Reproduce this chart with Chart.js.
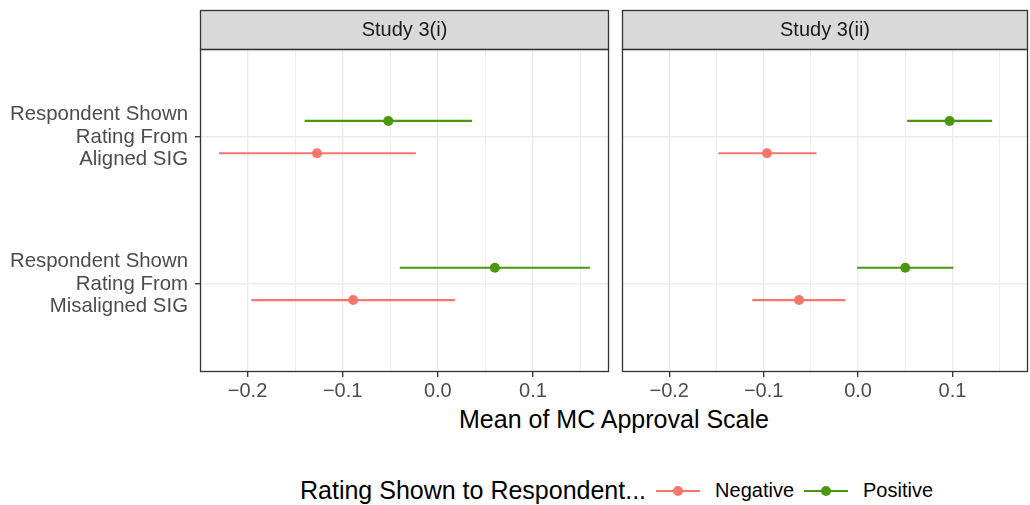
<!DOCTYPE html>
<html>
<head>
<meta charset="utf-8">
<script src="https://cdn.jsdelivr.net/npm/chart.js@4/dist/chart.umd.min.js"></script>
<style>
  body { margin: 0; width: 1030px; height: 505px; background: #fff; overflow: hidden; font-family: "Liberation Sans", Arial, sans-serif; }
  canvas { position: absolute; top: 0; }
  #c1 { left: 0; }
  #c2 { left: 612px; }
  #xtitle { position: absolute; left: 414px; width: 400px; top: 405px; text-align: center; font-size: 25px; color: #000; }
  #legend { position: absolute; left: 300px; top: 476px; display: flex; align-items: center; font-size: 20px; color: #000; white-space: nowrap; }
  #legend .title { font-size: 25px; margin-right: 6px; }
  #legend .key { position: relative; width: 52px; height: 20px; margin-right: 11px; }
  #legend .key .ln { position: absolute; left: 4px; right: 4px; top: 9px; height: 2px; }
  #legend .key .dt { position: absolute; left: 21px; top: 5px; width: 10px; height: 10px; border-radius: 50%; }
  #legend .lab { margin-right: 6px; }
</style>
</head>
<body>
<canvas id="c1" width="612" height="400"></canvas>
<canvas id="c2" width="418" height="400"></canvas>
<div id="xtitle">Mean of MC Approval Scale</div>
<div id="legend"></div>
<script>
// data
const studies = ['Study 3(i)', 'Study 3(ii)'];
const rowLabels = [
  ['Respondent Shown', 'Rating From', 'Aligned SIG'],
  ['Respondent Shown', 'Rating From', 'Misaligned SIG']
];
const rowPos = [2, 1];
const groups = ['Negative', 'Positive'];
const groupColors = ['#F8766D', '#4C960E'];

// Study 3(i)
const s1NegMean = [-0.127, -0.089];
const s1NegLow  = [-0.230, -0.196];
const s1NegHigh = [-0.023,  0.018];
const s1PosMean = [-0.052,  0.060];
const s1PosLow  = [-0.140, -0.040];
const s1PosHigh = [ 0.036,  0.160];

// Study 3(ii)
const s2NegMean = [-0.0965, -0.0625];
const s2NegLow  = [-0.148,  -0.112];
const s2NegHigh = [-0.044,  -0.0134];
const s2PosMean = [ 0.097,   0.050];
const s2PosLow  = [ 0.052,  -0.001];
const s2PosHigh = [ 0.142,   0.101];

const xMajor = [-0.2, -0.1, 0, 0.1];
const xMinor = [-0.25, -0.15, -0.05, 0.05, 0.15];
const xTickLabels = ['\u22120.2', '\u22120.1', '0.0', '0.1'];
const dodge = 0.11;

const isMajor = v => xMajor.some(m => Math.abs(m - v) < 1e-9);

const panelFrame = {
  id: 'panelFrame',
  afterDraw(chart, args, opts) {
    const { ctx, chartArea: a } = chart;
    ctx.save();
    ctx.fillStyle = '#D9D9D9';
    ctx.fillRect(a.left, 10, a.right - a.left, a.top - 10);
    ctx.strokeStyle = '#333333';
    ctx.lineWidth = 1.3;
    ctx.strokeRect(a.left + 0.5, 10.5, a.right - a.left - 1, a.top - 10);
    ctx.strokeRect(a.left + 0.5, a.top + 0.5, a.right - a.left - 1, a.bottom - a.top - 1);
    ctx.fillStyle = '#1A1A1A';
    ctx.font = '20px "Liberation Sans", Arial, sans-serif';
    ctx.textAlign = 'center';
    ctx.textBaseline = 'middle';
    ctx.fillText(opts.label, (a.left + a.right) / 2, (10 + a.top) / 2 + 1);
    ctx.restore();
  }
};

function makeDatasets(means, lows, highs) {
  const sets = [];
  groups.forEach((g, gi) => {
    const off = gi === 1 ? dodge : -dodge;
    rowPos.forEach((p, ri) => {
      sets.push({
        data: [{ x: lows[gi][ri], y: p + off }, { x: highs[gi][ri], y: p + off }],
        showLine: true,
        borderColor: groupColors[gi],
        borderWidth: 2.2,
        pointRadius: 0
      });
    });
    sets.push({
      data: rowPos.map((p, ri) => ({ x: means[gi][ri], y: p + off })),
      backgroundColor: groupColors[gi],
      borderWidth: 0,
      pointRadius: 5
    });
  });
  return sets;
}

function makeChart(id, title, datasets, showY, yWidth, padRight) {
  return new Chart(document.getElementById(id), {
    type: 'scatter',
    data: { datasets },
    options: {
      responsive: false,
      animation: false,
      layout: { autoPadding: false, padding: { top: 49, right: padRight, left: 0, bottom: 0 } },
      plugins: { legend: { display: false }, tooltip: { enabled: false }, panelFrame: { label: title } },
      scales: {
        x: {
          type: 'linear', min: -0.25, max: 0.18,
          afterBuildTicks: s => { s.ticks = xMinor.concat(xMajor).sort((a, b) => a - b).map(v => ({ value: v })); },
          afterFit: s => { s.height = 28; s.paddingLeft = 0; s.paddingRight = 0; },
          ticks: {
            autoSkip: false, maxRotation: 0, padding: 2,
            color: '#4D4D4D',
            font: { size: 20, family: '"Liberation Sans", Arial, sans-serif' },
            callback: v => { const i = xMajor.findIndex(m => Math.abs(m - v) < 1e-9); return i < 0 ? '' : xTickLabels[i]; }
          },
          grid: {
            color: '#EBEBEB',
            lineWidth: c => (c.tick && isMajor(c.tick.value)) ? 1.4 : 0.8,
            tickColor: c => (c.tick && isMajor(c.tick.value)) ? '#333333' : 'rgba(0,0,0,0)',
            tickLength: 5, tickWidth: 1.3
          },
          border: { display: false }
        },
        y: {
          type: 'linear', min: 0.4, max: 2.6,
          afterBuildTicks: s => { s.ticks = rowPos.map(v => ({ value: v })); },
          afterFit: s => { s.width = yWidth; s.paddingTop = 0; s.paddingBottom = 0; },
          ticks: {
            display: showY, padding: 7,
            color: '#4D4D4D',
            font: { size: 20.4, family: '"Liberation Sans", Arial, sans-serif', lineHeight: 1.1 },
            callback: v => { const i = rowPos.indexOf(v); return i < 0 ? '' : rowLabels[i]; }
          },
          grid: {
            color: '#EBEBEB', lineWidth: 1.4,
            drawTicks: showY, tickColor: '#333333', tickLength: 5, tickWidth: 1.3
          },
          border: { display: false }
        }
      }
    },
    plugins: [panelFrame]
  });
}

makeChart('c1', studies[0],
  makeDatasets([s1NegMean, s1PosMean], [s1NegLow, s1PosLow], [s1NegHigh, s1PosHigh]), true, 200, 3);
makeChart('c2', studies[1],
  makeDatasets([s2NegMean, s2PosMean], [s2NegLow, s2PosLow], [s2NegHigh, s2PosHigh]), false, 10, 2);

// legend
const legend = document.getElementById('legend');
let html = '<span class="title">Rating Shown to Respondent...</span>';
groups.forEach((g, i) => {
  html += `<span class="key"><span class="ln" style="background:${groupColors[i]}"></span><span class="dt" style="background:${groupColors[i]}"></span></span><span class="lab">${g}</span>`;
});
legend.innerHTML = html;
</script>
</body>
</html>
